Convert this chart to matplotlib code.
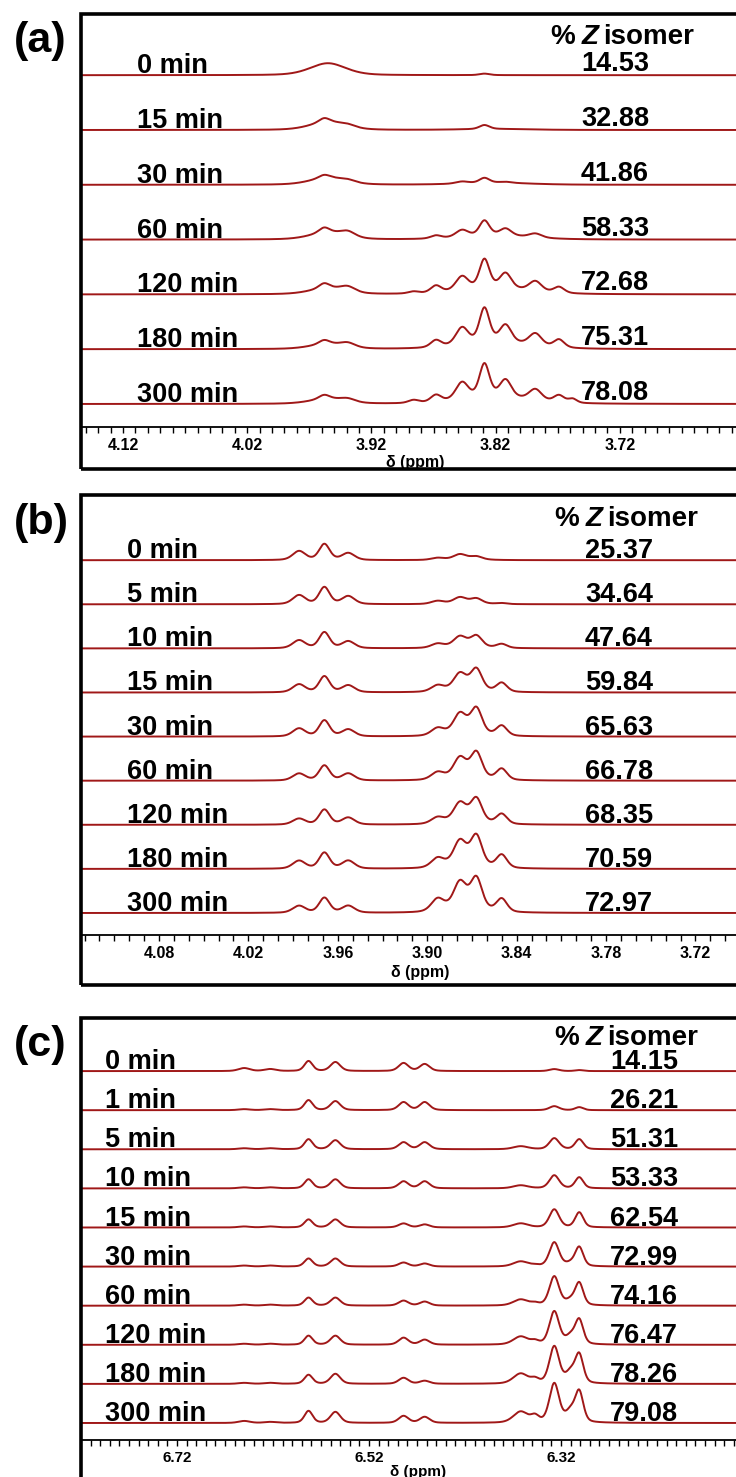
import numpy as np
import matplotlib.pyplot as plt
from matplotlib.patches import Rectangle

plt.rcParams['font.family'] = ['Liberation Sans', 'DejaVu Sans']
plt.rcParams['font.weight'] = 'bold'

W, H = 736, 1477
LINE = '#a01818'

# ---- panel (a) ----
a_times = ['0 min', '15 min', '30 min', '60 min', '120 min', '180 min', '300 min']
a_z = ['14.53', '32.88', '41.86', '58.33', '72.68', '75.31', '78.08']
a_ppm = [3.955, 3.958, 3.939, 3.886, 3.868, 3.847, 3.829, 3.812, 3.788, 3.769, 3.758, 3.820]
a_hw = [0.017, 0.005, 0.007, 0.005, 0.005, 0.006, 0.0048, 0.0055, 0.006, 0.005, 0.004, 0.032]
a_int = [
    [12, 0, 0, 0, 0, 0, 1.5, 0, 0, 0, 0, 0],
    [8, 4, 2, 0, 0, 0, 4, 0, 0, 0, 0, 1],
    [7, 3, 2, 0, 0, 2, 5, 1, 0, 0, 0, 2],
    [7, 5, 5, 0, 3, 7, 15, 7, 4, 0, 0, 4],
    [6, 5, 5, 2, 7, 14, 29, 15, 10, 6, 0, 6],
    [5, 4, 4, 0, 7, 17, 34, 17, 12, 8, 0, 7],
    [5, 4, 3, 3, 7, 17, 33, 17, 11, 7, 4, 7],
]
a_ticks = [4.12, 4.02, 3.92, 3.82, 3.72]

# ---- panel (b) ----
b_times = ['0 min', '5 min', '10 min', '15 min', '30 min', '60 min', '120 min', '180 min', '300 min']
b_z = ['25.37', '34.64', '47.64', '59.84', '65.63', '66.78', '68.35', '70.59', '72.97']
b_ppm = [3.986, 3.969, 3.953, 3.893, 3.878, 3.867, 3.850, 3.875]
b_hw = [0.005, 0.0042, 0.005, 0.005, 0.005, 0.0045, 0.0042, 0.014]
b_int = [
    [9, 16, 7, 2, 5, 3, 0, 1],
    [9, 17, 8, 3, 6, 5, 1, 1],
    [8, 16, 7, 4, 10, 11, 4, 2],
    [8, 16, 7, 6, 16, 21, 9, 3],
    [8, 16, 7, 7, 19, 25, 10, 4],
    [7, 15, 7, 7, 19, 25, 11, 4],
    [6, 15, 7, 6, 18, 23, 10, 4],
    [8, 16, 8, 9, 23, 29, 13, 5],
    [7, 15, 7, 12, 25, 30, 13, 6],
]
b_ticks = [4.08, 4.02, 3.96, 3.90, 3.84, 3.78, 3.72]

# ---- panel (c) ----
c_times = ['0 min', '1 min', '5 min', '10 min', '15 min', '30 min', '60 min', '120 min', '180 min', '300 min']
c_z = ['14.15', '26.21', '51.31', '53.33', '62.54', '72.99', '74.16', '76.47', '78.26', '79.08']
c_ppm = [6.650, 6.623, 6.583, 6.555, 6.484, 6.462, 6.362, 6.347, 6.327, 6.310, 6.301]
c_hw = [0.007, 0.007, 0.005, 0.006, 0.006, 0.006, 0.009, 0.005, 0.006, 0.006, 0.005]
c_int = [
    [3, 2, 10, 9, 8, 7, 0, 0, 2, 0, 1],
    [1, 1, 10, 9, 8, 8, 0, 0, 4, 0, 3],
    [1, 1, 10, 9, 7, 7, 3, 0, 11, 0, 10],
    [1, 1, 9, 9, 7, 7, 3, 0, 13, 0, 11],
    [1, 1, 8, 8, 4, 3, 4, 0, 18, 0, 15],
    [1, 1, 8, 8, 4, 3, 5, 1, 24, 3, 19],
    [1, 1, 8, 8, 5, 4, 6, 2, 29, 5, 22],
    [1, 1, 9, 9, 7, 5, 8, 3, 33, 8, 24],
    [1, 1, 9, 10, 6, 3, 10, 4, 37, 11, 28],
    [2, 1, 12, 11, 7, 6, 11, 6, 39, 11, 30],
]
c_ticks = [6.72, 6.52, 6.32]


def fx(px):
    return px / W


def fy(py):
    return 1 - py / H


def line_shape(x, centers, hws, heights, eta=0.35):
    # pseudo-Voigt peaks: eta * Lorentzian + (1 - eta) * Gaussian, same half width
    y = np.zeros_like(x)
    for c, w, h in zip(centers, hws, heights):
        lor = w ** 2 / ((x - c) ** 2 + w ** 2)
        gau = np.exp(-np.log(2) * ((x - c) / w) ** 2)
        y += h * (eta * lor + (1 - eta) * gau)
    return y


panels = [
    dict(tag='(a)', tag_y=41, top=14, bottom=469, axis=427, ref=(4.12, 123), scale=1242,
         times=a_times, z=a_z, ppm=a_ppm, hw=a_hw, inten=a_int, ticks=a_ticks,
         base=23, step=54.8, lab_x=137, num_x=581, num_dy=4, head=(550, 44), xlab=(415, 462), tfs=11.5),
    dict(tag='(b)', tag_y=523, top=495, bottom=985, axis=935, ref=(4.08, 159), scale=1490,
         times=b_times, z=b_z, ppm=b_ppm, hw=b_hw, inten=b_int, ticks=b_ticks,
         base=22, step=44.1, lab_x=127, num_x=585, num_dy=2, head=(554, 526), xlab=(420, 972), tfs=11.5),
    dict(tag='(c)', tag_y=1045, top=1018, bottom=1520, axis=1440, ref=(6.72, 177), scale=960,
         times=c_times, z=c_z, ppm=c_ppm, hw=c_hw, inten=c_int, ticks=c_ticks,
         base=17, step=39.1, lab_x=105, num_x=610, num_dy=2, head=(554, 1045), xlab=(418, 1472), tfs=11),
]

fig = plt.figure(figsize=(W / 100, H / 100), dpi=100)
left_px = 81

for p in panels:
    # outer frame
    fig.patches.append(Rectangle((fx(left_px), fy(p['bottom'])), 1.0, (p['bottom'] - p['top']) / H,
                                 fill=False, lw=2.6, ec='black', transform=fig.transFigure))
    ax = fig.add_axes([fx(left_px), fy(p['axis']), 1 - fx(left_px), (p['axis'] - p['top']) / H])
    ref_ppm, ref_px = p['ref']
    x_left = ref_ppm + (ref_px - left_px) / p['scale']
    x_right = ref_ppm - (W - ref_px) / p['scale']
    ax.set_xlim(x_left, x_right)
    ax.set_ylim(0, p['axis'] - p['top'])
    for s in ['top', 'left', 'right']:
        ax.spines[s].set_visible(False)
    ax.spines['bottom'].set_linewidth(1.3)
    ax.patch.set_alpha(0)

    minor = np.round(np.arange(np.floor(x_left * 100) / 100, x_right, -0.01), 2)
    ax.set_xticks(minor, minor=True)
    ax.set_xticks(p['ticks'])
    ax.set_xticklabels([f'{t:.2f}' for t in p['ticks']], fontsize=p['tfs'], fontweight='bold')
    ax.tick_params(axis='x', which='both', direction='out', length=4, width=1, pad=4)
    ax.set_yticks([])

    x = np.linspace(x_left, x_right, 2000)
    n = len(p['times'])
    for i in range(n):
        off = p['base'] + (n - 1 - i) * p['step']
        y = line_shape(x, p['ppm'], p['hw'], p['inten'][i])
        ax.plot(x, y + off, color=LINE, lw=1.4)
        base_px = p['axis'] - off
        fig.text(fx(p['lab_x']), fy(base_px - 2), p['times'][i], fontsize=19.5,
                 fontweight='bold', ha='left', va='baseline')
        fig.text(fx(p['num_x']), fy(base_px - p['num_dy']), p['z'][i], fontsize=19.5,
                 fontweight='bold', ha='left', va='baseline')

    # header "% Z isomer" with italic Z
    hx, hy = p['head']
    t1 = fig.text(fx(hx), fy(hy), '%', fontsize=20, fontweight='bold', ha='left', va='baseline')
    t2 = ax.annotate('Z', xy=(1, 0), xycoords=t1, xytext=(5, 0), textcoords='offset points',
                     fontsize=20, fontweight='bold', fontstyle='italic', ha='left', va='bottom')
    ax.annotate('isomer', xy=(1, 0), xycoords=t2, xytext=(3, 0), textcoords='offset points',
                fontsize=20, fontweight='bold', ha='left', va='bottom')

    fig.text(fx(p['xlab'][0]), fy(p['xlab'][1]), 'δ (ppm)', fontsize=p['tfs'], fontweight='bold',
             ha='center', va='center')
    fig.text(fx(14), fy(p['tag_y']), p['tag'], fontsize=31, fontweight='bold', ha='left', va='center')

fig.savefig('out.png', dpi=100)
